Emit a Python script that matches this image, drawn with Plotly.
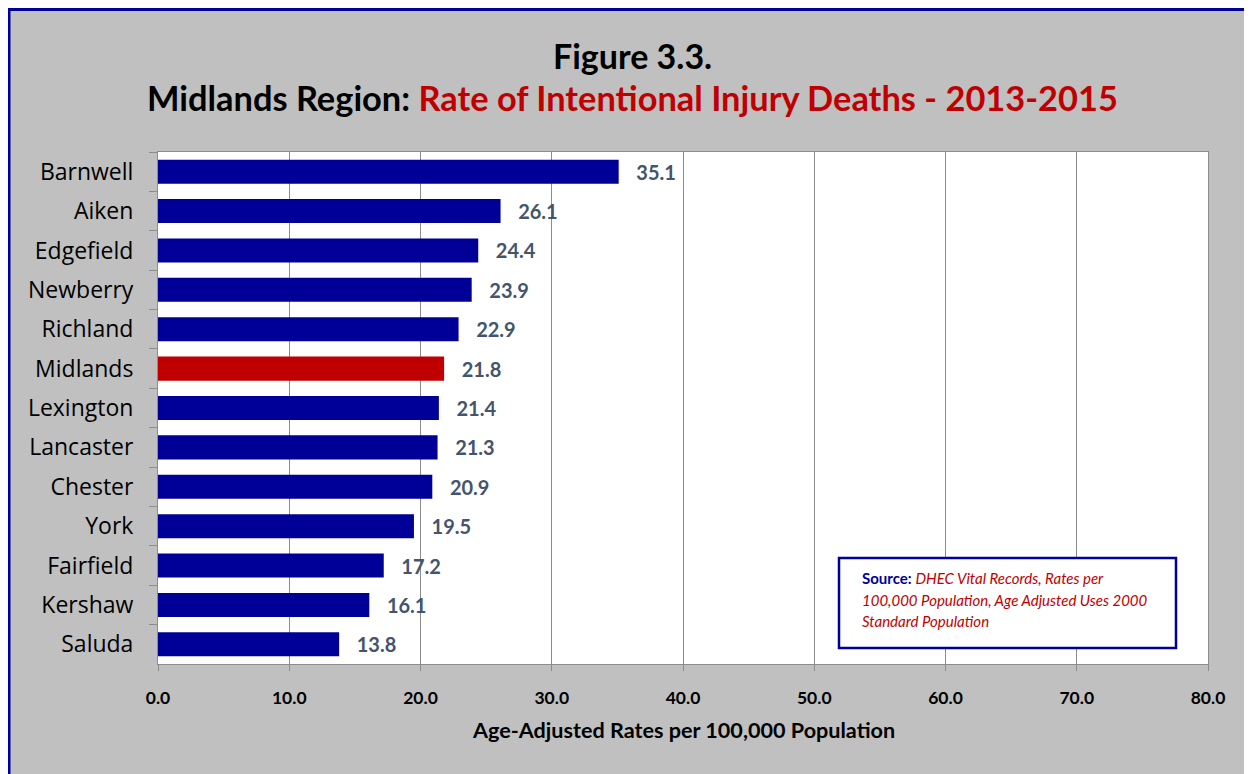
import plotly.graph_objects as go

counties = ["Barnwell", "Aiken", "Edgefield", "Newberry", "Richland", "Midlands",
            "Lexington", "Lancaster", "Chester", "York", "Fairfield", "Kershaw", "Saluda"]
rates = [35.1, 26.1, 24.4, 23.9, 22.9, 21.8, 21.4, 21.3, 20.9, 19.5, 17.2, 16.1, 13.8]
x_ticks = [0, 10, 20, 30, 40, 50, 60, 70, 80]
x_tick_labels = ["0.0", "10.0", "20.0", "30.0", "40.0", "50.0", "60.0", "70.0", "80.0"]

BLUE = "#000099"
RED = "#C00000"
GRAY_BG = "#C0C0C0"
FONT = "Lato"
FONT_REG = "Open Sans"

colors = [RED if c == "Midlands" else BLUE for c in counties]

fig = go.Figure()
fig.add_trace(go.Bar(
    x=rates, y=counties, orientation="h",
    marker=dict(color=colors, line=dict(width=0)),
    width=0.61,
    text=["   " + f"{v:.1f}" for v in rates],
    textposition="outside",
    textfont=dict(family=FONT, size=20, color="#44546A", weight="bold"),
    cliponaxis=False,
    hoverinfo="x+y",
))

W, H = 1244, 766
L, R, T, B = 150, 44, 144, 110
pw, ph = W - L - R, H - T - B

def px(x):
    return (x - L) / pw

def py(y):
    return (H - B - y) / ph

shapes = [
    dict(type="line", xref="paper", yref="paper",
         x0=px(1), x1=px(1300), y0=py(1.5), y1=py(1.5),
         line=dict(color="#000099", width=3), layer="below"),
    dict(type="line", xref="paper", yref="paper",
         x0=px(1), x1=px(1), y0=py(0), y1=py(820),
         line=dict(color="#000099", width=3), layer="below"),
    dict(type="rect", xref="paper", yref="paper",
         x0=px(831), x1=px(1168), y0=py(550), y1=py(640),
         fillcolor="white", line=dict(color="#000099", width=2.5), layer="above"),
]

annotations = [
    dict(text="<b>Figure 3.3.</b>", xref="paper", yref="paper", x=px(624), y=py(47),
         showarrow=False, xanchor="center", yanchor="middle",
         font=dict(family=FONT, size=34, color="black")),
    dict(text="<b>Midlands Region: <span style='color:#C00000'>Rate of Intentional Injury Deaths - 2013-2015</span></b>",
         xref="paper", yref="paper", x=px(624.5), y=py(89),
         showarrow=False, xanchor="center", yanchor="middle",
         font=dict(family=FONT, size=34.4, color="black")),
    dict(text="<b>Age-Adjusted Rates per 100,000 Population</b>", xref="paper", yref="paper",
         x=px(675), y=py(722), showarrow=False, xanchor="center", yanchor="middle",
         font=dict(family=FONT, size=21.6, color="black")),
    dict(text="<b><span style='color:#000099'>Source:</span></b> <i>DHEC Vital Records, Rates per</i>",
         xref="paper", yref="paper", x=px(852), y=py(570), showarrow=False,
         xanchor="left", yanchor="middle", font=dict(family=FONT, size=15, color=RED)),
    dict(text="<i>100,000 Population, Age Adjusted Uses 2000</i>",
         xref="paper", yref="paper", x=px(852), y=py(592), showarrow=False,
         xanchor="left", yanchor="middle", font=dict(family=FONT, size=15, color=RED)),
    dict(text="<i>Standard Population</i>",
         xref="paper", yref="paper", x=px(852), y=py(613), showarrow=False,
         xanchor="left", yanchor="middle", font=dict(family=FONT, size=15, color=RED)),
]

fig.update_layout(
    width=W, height=H,
    margin=dict(l=L, r=R, t=T, b=B, pad=0),
    paper_bgcolor=GRAY_BG,
    plot_bgcolor="white",
    showlegend=False,
    shapes=shapes,
    annotations=annotations,
    xaxis=dict(
        range=[0, 80], tickvals=x_ticks, ticktext=x_tick_labels,
        showgrid=True, gridcolor="#8C8C8C", gridwidth=1,
        showline=True, linecolor="#8C8C8C", linewidth=1, mirror=True,
        ticks="outside", ticklen=6, tickcolor="#8C8C8C",
        tickfont=dict(family=FONT, size=17.5, color="black", weight="bold"),
        ticklabelstandoff=12, zeroline=False, fixedrange=True,
    ),
    yaxis=dict(
        categoryorder="array", categoryarray=counties, autorange="reversed",
        showline=True, linecolor="#8C8C8C", linewidth=1, mirror=True,
        ticks="outside", ticklen=8, tickcolor="#8C8C8C", tickson="boundaries",
        tickfont=dict(family=FONT_REG, size=23, color="black"),
        ticklabelstandoff=19, showgrid=False, fixedrange=True,
    ),
)

fig.write_html("out.html")
